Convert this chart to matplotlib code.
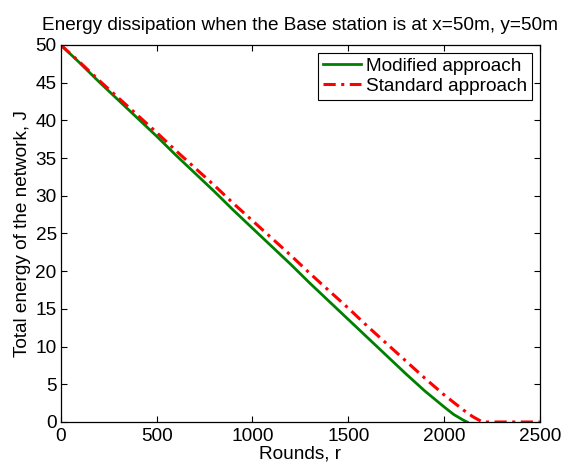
import matplotlib
matplotlib.use("Agg")
import matplotlib.pyplot as plt

# energy left in the network, every 100 rounds
rounds_modified = [0, 100, 200, 300, 400, 500, 600, 700, 800, 900, 1000,
                   1100, 1200, 1300, 1400, 1500, 1600, 1700, 1800, 1900,
                   2000, 2050, 2100, 2120]
energy_modified = [50.0, 47.6, 45.1, 42.7, 40.3, 37.9, 35.4, 33.0, 30.6, 28.1,
                   25.7, 23.3, 20.9, 18.4, 16.0, 13.6, 11.2, 8.8, 6.4, 4.1,
                   2.0, 1.0, 0.25, 0.0]

rounds_standard = [0, 100, 200, 300, 400, 500, 600, 700, 800, 900, 1000,
                   1100, 1200, 1300, 1400, 1500, 1600, 1700, 1800, 1900,
                   2000, 2100, 2150, 2200, 2500]
energy_standard = [50.0, 47.7, 45.3, 43.0, 40.7, 38.4, 36.0, 33.7, 31.4, 29.0,
                   26.7, 24.4, 22.1, 19.7, 17.4, 15.1, 12.7, 10.4, 8.1, 5.8,
                   3.6, 1.6, 0.7, 0.0, 0.0]

x_ticks = [0, 500, 1000, 1500, 2000, 2500]
y_ticks = [0, 5, 10, 15, 20, 25, 30, 35, 40, 45, 50]

plt.rcParams["font.family"] = ["Liberation Sans", "DejaVu Sans"]
fs = 13.7

fig = plt.figure(figsize=(5.63, 4.62), dpi=100)
ax = fig.add_axes([0.108, 0.0866, 0.851, 0.816])

ax.plot(rounds_modified, energy_modified, color=(0, 0.5, 0), linewidth=2,
        label="Modified approach")
ax.plot(rounds_standard, energy_standard, color=(1, 0, 0), linewidth=2.2,
        linestyle=(0, (4, 1.8, 1, 1.8)), label="Standard approach")

ax.set_xlim(0, 2500)
ax.set_ylim(0, 50)
ax.set_xticks(x_ticks)
ax.set_yticks(y_ticks)
ax.tick_params(direction="in", top=True, right=True, labelsize=fs,
               length=4, width=0.8)
ax.tick_params(axis="x", pad=4)
ax.tick_params(axis="y", pad=3)
for side in ax.spines.values():
    side.set_linewidth(0.9)

ax.set_title("Energy dissipation when the Base station is at x=50m, y=50m",
             fontsize=fs, pad=11)
ax.set_xlabel("Rounds, r", fontsize=fs, labelpad=1)
ax.set_ylabel("Total energy of the network, J", fontsize=fs, labelpad=3)

leg = ax.legend(loc="upper right", fontsize=fs, fancybox=False,
                edgecolor="black", framealpha=1, borderaxespad=0.4,
                handlelength=2.0, handletextpad=0.3, borderpad=0.25,
                labelspacing=0.15)
leg.get_frame().set_linewidth(0.8)

fig.savefig("out.png", dpi=100)
